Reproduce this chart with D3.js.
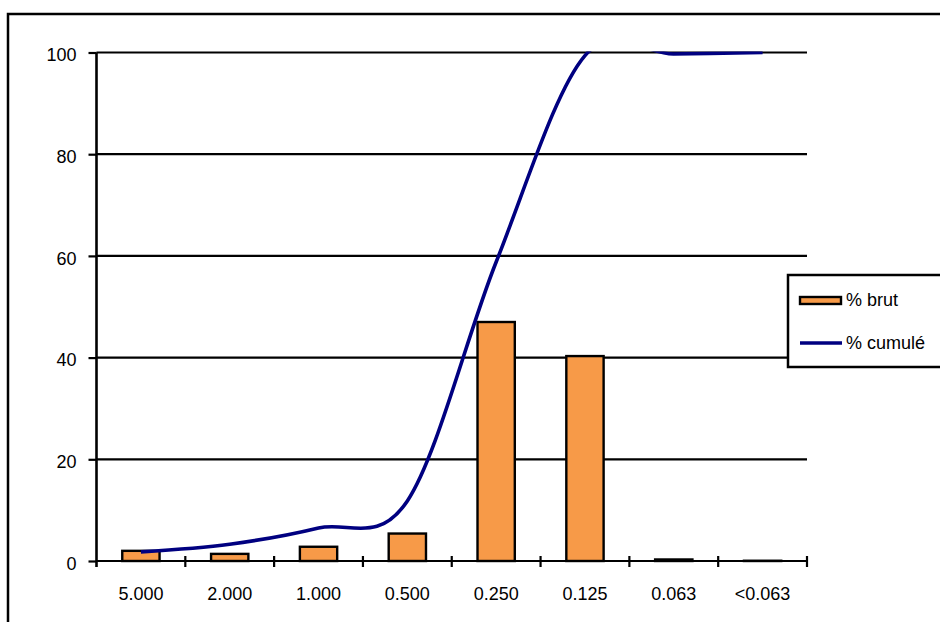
<!DOCTYPE html>
<html>
<head>
<meta charset="utf-8">
<script src="https://cdn.jsdelivr.net/npm/d3@7/dist/d3.min.js"></script>
<style>
  html, body { margin: 0; padding: 0; background: #fff; }
  svg { display: block; font-family: "Liberation Sans", Arial, sans-serif; }
</style>
</head>
<body>
<svg id="chart" width="940" height="622"></svg>
<script>
const categories = ["5.000", "2.000", "1.000", "0.500", "0.250", "0.125", "0.063", "<0.063"];
const brut = [2.0, 1.4, 2.8, 5.4, 47.0, 40.3, 0.3, 0.05];
const cumule = [1.8, 3.3, 6.5, 11.8, 58.8, 99.4, 99.7, 100];
const yTicks = [0, 20, 40, 60, 80, 100];
const seriesNames = ["% brut", "% cumulé"];

const orange = "#f79a48";
const navy = "#000080";

const svg = d3.select("#chart");
const pLeft = 96.5, pRight = 807, pTop = 52.5, pBottom = 561;

// outer frame (extends past the right and bottom edges)
svg.append("rect").attr("x", 8).attr("y", 14).attr("width", 1000).attr("height", 700)
  .attr("fill", "#fff").attr("stroke", "#000").attr("stroke-width", 2.5);

const x = d3.scaleBand().domain(categories).range([pLeft, pRight]).padding(0);
const y = d3.scaleLinear().domain([0, 100]).range([pBottom, pTop]);

// gridlines
svg.append("g").selectAll("line").data(yTicks.filter(d => d > 0)).join("line")
  .attr("x1", pLeft).attr("x2", pRight)
  .attr("y1", d => y(d)).attr("y2", d => y(d))
  .attr("stroke", "#000").attr("stroke-width", 2.2);

// y axis ticks & labels
const yAxis = svg.append("g").attr("transform", `translate(${pLeft},0)`)
  .call(d3.axisLeft(y).tickValues(yTicks).tickSize(8).tickSizeOuter(0).tickPadding(12));
yAxis.select(".domain").remove();
yAxis.selectAll(".tick line").attr("stroke", "#000").attr("stroke-width", 2.2);
yAxis.selectAll(".tick text").attr("font-size", 18).attr("fill", "#000")
  .attr("font-family", "Liberation Sans, Arial, sans-serif").attr("dy", "0.45em");

// bars
const bw = x.bandwidth() * 0.42;
svg.append("g").selectAll("rect").data(categories).join("rect")
  .attr("x", (d) => x(d) + x.bandwidth() / 2 - bw / 2)
  .attr("width", bw)
  .attr("y", (d, i) => y(brut[i]))
  .attr("height", (d, i) => Math.max(0.01, pBottom - y(brut[i])))
  .attr("fill", orange).attr("stroke", "#000").attr("stroke-width", 2.4);

// x axis line and boundary ticks
svg.append("line").attr("x1", pLeft).attr("x2", pRight).attr("y1", pBottom).attr("y2", pBottom)
  .attr("stroke", "#000").attr("stroke-width", 2.2);
svg.append("line").attr("x1", pLeft).attr("x2", pLeft).attr("y1", pTop).attr("y2", pBottom + 6)
  .attr("stroke", "#000").attr("stroke-width", 2.6);
const bounds = categories.map(c => x(c)).concat([x.range()[1]]);
svg.append("g").selectAll("line").data(bounds.slice(1)).join("line")
  .attr("x1", d => d).attr("x2", d => d)
  .attr("y1", pBottom - 5).attr("y2", pBottom + 6)
  .attr("stroke", "#000").attr("stroke-width", 2.2);

// x labels
const xAxis = svg.append("g").attr("transform", `translate(0,${pBottom})`)
  .call(d3.axisBottom(x).tickSize(0).tickPadding(26));
xAxis.select(".domain").remove();
xAxis.selectAll(".tick text").attr("font-size", 18).attr("fill", "#000")
  .attr("font-family", "Liberation Sans, Arial, sans-serif");

// cumulative line (clipped to plot area)
svg.append("clipPath").attr("id", "plotclip").append("rect")
  .attr("x", pLeft).attr("y", pTop - 1).attr("width", pRight - pLeft).attr("height", pBottom - pTop + 10);
const line = d3.line()
  .x((d, i) => x(categories[i]) + x.bandwidth() / 2)
  .y(d => y(d))
  .curve(d3.curveCardinal.tension(0));
svg.append("path").datum(cumule).attr("d", line)
  .attr("clip-path", "url(#plotclip)")
  .attr("fill", "none").attr("stroke", navy).attr("stroke-width", 3.6)
  .attr("stroke-linejoin", "round");

// legend
const lg = svg.append("g");
lg.append("rect").attr("x", 788).attr("y", 275).attr("width", 200).attr("height", 92)
  .attr("fill", "#fff").attr("stroke", "#000").attr("stroke-width", 2.5);
lg.append("rect").attr("x", 800).attr("y", 297).attr("width", 41).attr("height", 7)
  .attr("fill", orange).attr("stroke", "#000").attr("stroke-width", 2.4);
lg.append("line").attr("x1", 800).attr("x2", 842).attr("y1", 343).attr("y2", 343)
  .attr("stroke", navy).attr("stroke-width", 3.6);
lg.selectAll("text").data(seriesNames).join("text")
  .attr("x", 846).attr("y", (d, i) => i === 0 ? 300 : 343).attr("dy", "0.35em")
  .attr("font-size", 18).attr("fill", "#000").text(d => d);
</script>
</body>
</html>
